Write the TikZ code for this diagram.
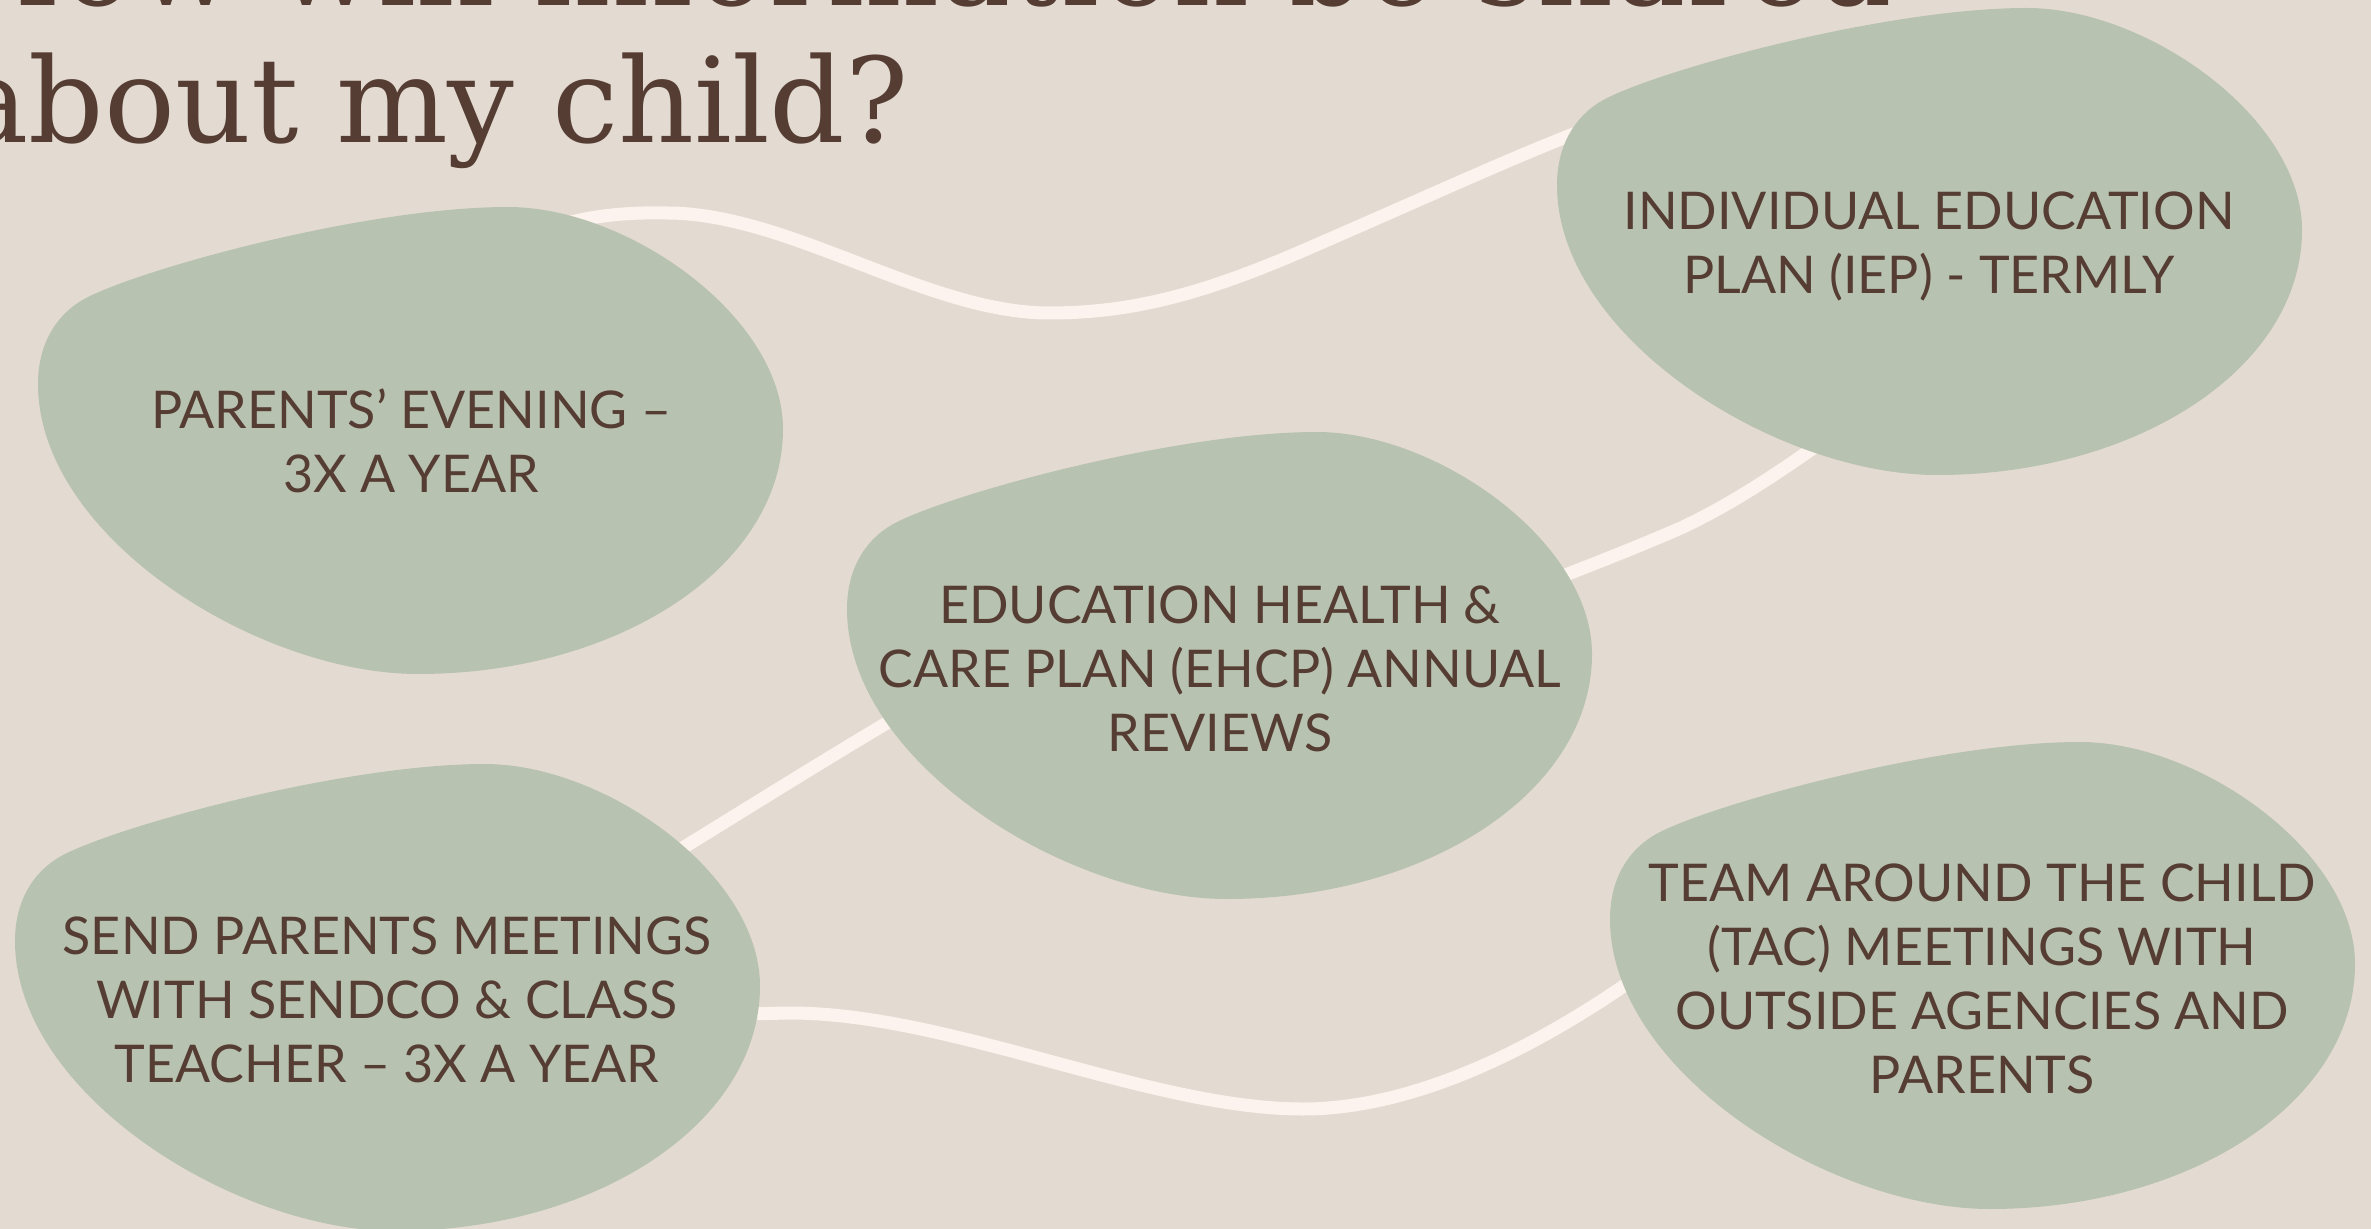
\documentclass[tikz,border=0pt]{standalone}
\usepackage{fontspec}
\newfontfamily\titlefont{DejaVu Serif}
\newfontfamily\blobfont{Lato}
\pgfdeclarelayer{back}
\pgfdeclarelayer{blobs}
\pgfsetlayers{back,blobs,main}
\definecolor{bgbeige}{HTML}{E3DBD1}
\definecolor{blobgreen}{HTML}{B8C2B0}
\definecolor{linecream}{HTML}{FCF3EE}
\definecolor{inkbrown}{HTML}{553D33}
\tikzset{
  blobshape/.pic={\fill[blobgreen] (470,0) .. controls (590,0) and (745,110) .. (745,222)
      .. controls (745,360) and (580,467) .. (380,467)
      .. controls (220,467) and (0,330) .. (0,177)
      .. controls (0,135) and (20,105) .. (50,90)
      .. controls (110,60) and (330,0) .. (470,0) -- cycle;},
  blobtext/.style={font=\blobfont\fontsize{26}{32}\selectfont, text=inkbrown, align=center, inner sep=0pt},
  titletext/.style={font=\titlefont\fontsize{59}{68.5}\selectfont, text=inkbrown, align=left, inner sep=0pt},
  conn/.style={draw=linecream, line width=6.5pt, line cap=round, line join=round}
}
\begin{document}
\begin{tikzpicture}[x=0.5pt,y=-0.5pt]
\useasboundingbox (0,0) rectangle (2371,1229);
\node[titletext, anchor=base west] (title) at (-42,143) {{\addfontfeature{LetterSpace=1.4}How will information be shared}\\about my child?};
\node[blobtext] (b1) at (411,441) {PARENTS’ EVENING –\\3X A YEAR};
\node[blobtext] (b2) at (1929,246) {INDIVIDUAL EDUCATION\\PLAN (IEP) - TERMLY};
\node[blobtext] (b3) at (1220,669) {EDUCATION HEALTH \&\\CARE PLAN (EHCP) ANNUAL\\REVIEWS};
\node[blobtext] (b4) at (387,1000) {SEND PARENTS MEETINGS\\WITH SENDCO \& CLASS\\TEACHER – 3X A YEAR};
\node[blobtext] (b5) at (1982,979) {TEAM AROUND THE CHILD\\(TAC) MEETINGS WITH\\OUTSIDE AGENCIES AND\\PARENTS};
\begin{pgfonlayer}{back}
\fill[bgbeige] (0,0) rectangle (2371,1229);
\draw[conn] (b1.center) -- (540,232) .. controls (580,216) and (625,212) .. (667,213)
   .. controls (789,213) and (927,313) .. (1049,313)
   .. controls (1130,313) and (1200,295) .. (1300,252)
   .. controls (1420,200) and (1500,163) .. (1571,135)
   -- (1650,106) -- (b2.center);
\draw[conn] (b3.center) -- (1490,605) .. controls (1530,588) and (1620,555) .. (1683,527)
   .. controls (1740,500) and (1790,465) .. (1860,415) -- (b2.center);
\draw[conn] (b4.center) -- (630,880) .. controls (720,826) and (830,755) .. (960,680) -- (b3.center);
\draw[conn] (b4.center) -- (690,1015) -- (790,1013)
   .. controls (950,1013) and (1150,1109) .. (1303,1109)
   .. controls (1430,1109) and (1570,1030) .. (1680,945) -- (b5.center);
\end{pgfonlayer}
\begin{pgfonlayer}{blobs}
\pic at (38,207) {blobshape};
\pic at (1557,8) {blobshape};
\pic at (847,432) {blobshape};
\pic at (15,764) {blobshape};
\pic at (1610,742) {blobshape};
\end{pgfonlayer}
\end{tikzpicture}
\end{document}
